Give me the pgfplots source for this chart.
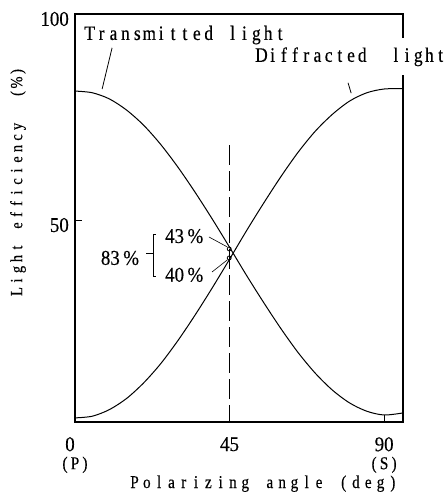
\documentclass[border=0pt]{standalone}
\usepackage{pgfplots}
\pgfplotsset{compat=1.18}
\usepackage{fontspec}
\setmainfont{Liberation Serif}
\newfontfamily\cfont[FakeStretch=0.85,FakeBold=0.3]{Liberation Serif}
\newfontfamily\nfont[FakeStretch=0.9,FakeBold=0.3]{Liberation Serif}
\newlength\cw
\def\endcells{\endcells}
\def\cellsloop#1{\ifx#1\endcells\else\makebox[\cw]{#1}\expandafter\cellsloop\fi}
\newcommand\cells[2]{\setlength\cw{#1}\cellsloop#2\endcells}

\begin{document}
\begin{tikzpicture}
\useasboundingbox (-75pt,-78pt) rectangle (372pt,422pt);
\begin{axis}[
  at={(0pt,0pt)}, anchor=south west,
  scale only axis, width=328pt, height=408pt,
  xmin=0, xmax=95.5, ymin=1, ymax=100,
  clip=false,
  axis line style={line width=1.1pt},
  tick align=inside, xtick pos=bottom, ytick pos=left,
  major tick length=7pt,
  tick style={line width=0.9pt, black},
  xtick={0,45,90},
  xticklabels={{\hspace*{-10pt}0\\[-3pt]{\cfont\fontsize{18}{18}\selectfont\cells{10pt}{(P)}}}, 45, {90\\[-3pt]{\cfont\fontsize{18}{18}\selectfont\cells{10pt}{(S)}}}},
  xticklabel style={font=\nfont\fontsize{21}{21}\selectfont, align=center, inner sep=0pt, anchor=north, yshift=-15pt},
  ytick={50,100}, yticklabels={50,100},
  yticklabel style={font=\nfont\fontsize{21}{21}\selectfont, inner sep=0pt, anchor=east, xshift=-6pt, yshift=-5pt},
]
% Transmitted light
\addplot[black, line width=1pt, smooth] coordinates {
(0,81.3) (5,80.9) (10,79.4) (15,76.7) (20,73.0) (25,68.3) (30,62.8) (35,56.7)
(40,50.2) (45,43.4) (50,36.5) (55,29.9) (60,23.6) (65,17.8) (70,12.8) (75,8.7)
(80,5.6) (85,3.6) (90,2.7) (95.5,3.2)};
% Diffracted light
\addplot[black, line width=1pt, smooth] coordinates {
(0,2.0) (5,2.4) (10,4.0) (15,6.7) (20,10.5) (25,15.2) (30,20.8) (35,27.0)
(40,33.6) (45,40.5) (50,47.5) (55,54.2) (60,60.6) (65,66.5) (70,71.6) (75,75.7)
(80,78.9) (85,80.9) (90,81.8) (95.5,81.9)};
% dashed 45 deg line
\addplot[black, line width=1pt, dash pattern=on 20pt off 6pt] coordinates {(45,68.2) (45,2.5)};
% measured points
\addplot[only marks, mark=o, mark size=2pt, black, mark options={line width=0.8pt, fill=white}] coordinates {(44.9,43.0) (44.9,40.8)};

\coordinate (tl) at (axis cs:2.5,93.7);
\draw[line width=0.8pt] (axis cs:10.8,91.8) -- (axis cs:7.9,81.8);
\coordinate (dl) at (axis cs:52.6,88.4);
\draw[line width=0.8pt] (axis cs:79.5,83.3) -- (axis cs:80.4,80.8);

\draw[line width=0.9pt] (axis cs:23.6,46.4) -- (axis cs:22.7,46.4) -- (axis cs:22.7,36.4) -- (axis cs:23.6,36.4);
\draw[line width=0.9pt] (axis cs:20.7,42.0) -- (axis cs:22.7,42.0);
\node[font=\nfont\fontsize{21}{21}\selectfont, inner sep=0pt] at (axis cs:31.8,46.1) {43\,\%};
\node[font=\nfont\fontsize{21}{21}\selectfont, inner sep=0pt] at (axis cs:31.8,36.7) {40\,\%};
\node[font=\nfont\fontsize{21}{21}\selectfont, inner sep=0pt] at (axis cs:13.1,40.8) {83\,\%};
\draw[line width=0.6pt] (axis cs:39.0,45.9) -- (axis cs:44.3,43.5);
\draw[line width=0.6pt] (axis cs:39.9,37.4) -- (axis cs:44.3,40.3);
\end{axis}
% gap in the right frame behind "light"
\fill[white] (324pt,347pt) rectangle (332pt,384pt);
\node[anchor=base west, inner sep=0pt, font=\cfont\fontsize{20.5}{20.5}\selectfont] at (tl) {\cells{11.9pt}{Transmitted~light}};
\node[anchor=base west, inner sep=0pt, font=\cfont\fontsize{20.5}{20.5}\selectfont] at (dl) {\cells{11.2pt}{Diffracted~~light}};
\node[font=\cfont\fontsize{18}{18}\selectfont, anchor=base, inner sep=0pt] at (188.7pt,-66pt) {\cells{12.3pt}{Polarizing~angle~(deg)}};
\node[font=\cfont\fontsize{17}{17}\selectfont, rotate=90, inner sep=0pt] at (-57pt,240.5pt) {\cells{11pt}{Light~efficiency~~(\%)}};
\end{tikzpicture}
\end{document}
